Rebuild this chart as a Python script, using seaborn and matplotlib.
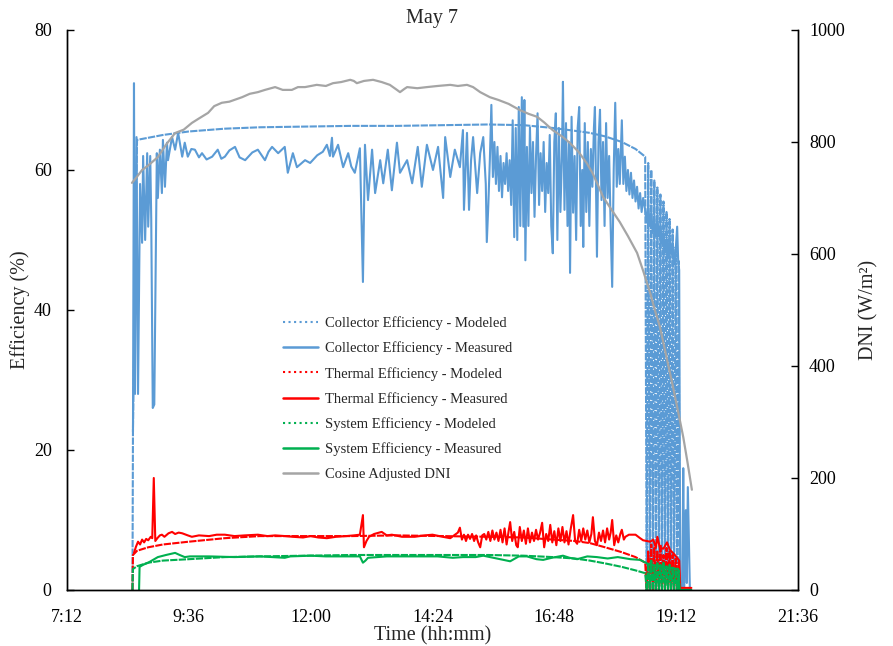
import matplotlib
matplotlib.use("Agg")
import matplotlib.pyplot as plt
from matplotlib.lines import Line2D
from matplotlib.ticker import FuncFormatter
import seaborn as sns
import pandas as pd

# ---------------- data (time in decimal hours) ----------------

# cosine adjusted DNI, W/m2 (right axis)
dni_time = [8.48, 8.58, 8.68, 8.80, 8.99, 9.15, 9.33, 9.50, 9.66, 9.80,
            9.98, 10.10, 10.25, 10.40, 10.65, 10.80, 10.96, 11.10, 11.30, 11.45,
            11.63, 11.75, 11.89, 12.12, 12.30, 12.44, 12.60, 12.78, 12.85, 12.91,
            13.05, 13.23, 13.40, 13.56, 13.70, 13.76, 13.85, 13.90, 14.10, 14.29,
            14.50, 14.75, 14.90, 15.08, 15.20, 15.34, 15.53, 15.70, 15.90, 16.12,
            16.30, 16.46, 16.60, 16.77, 16.95, 17.11, 17.28, 17.44, 17.55, 17.65,
            17.76, 17.92, 18.09, 18.25, 18.43, 18.55, 18.69, 18.78, 18.88, 19.00,
            19.14, 19.24, 19.34, 19.42, 19.51]
dni_wm2 = [727, 738, 750, 758, 773, 795, 816, 822, 834, 842,
           852, 864, 870, 872, 880, 886, 889, 893, 898, 893,
           893, 898, 898, 902, 900, 905, 907, 911, 909, 905,
           909, 911, 907, 902, 893, 889, 895, 898, 896, 898,
           900, 902, 900, 902, 898, 889, 880, 875, 868, 857,
           850, 845, 835, 821, 810, 798, 782, 762, 745, 725,
           702, 680, 657, 632, 602, 570, 530, 500, 470, 420,
           362, 318, 273, 230, 179]

# modeled efficiencies share one time base (on/off cycling at sunset)
model_time = [8.49, 8.50, 8.58, 8.80, 9.09, 9.60, 10.31, 11.00, 11.89, 12.80,
              13.70, 14.60, 15.50, 16.20, 16.77, 17.20, 17.50, 17.80, 18.13, 18.40,
              18.59, 18.62, 18.65, 18.68, 18.71, 18.74, 18.77, 18.80, 18.83, 18.86,
              18.89, 18.92, 18.95, 18.98, 19.01, 19.04, 19.07, 19.10, 19.13, 19.16,
              19.19, 19.22, 19.25, 19.27, 19.50]
coll_model = [0, 23.0, 64.3, 64.6, 65.0, 65.5, 65.9, 66.1, 66.2, 66.3,
              66.3, 66.4, 66.5, 66.4, 66.0, 65.6, 65.3, 64.8, 64.0, 63.0,
              61.9, 0, 61.0, 0, 60.0, 0, 58.5, 0, 57.5, 0,
              56.5, 0, 55.5, 0, 54.0, 0, 53.0, 0, 51.5, 0,
              49.0, 0, 47.0, 0, 0]
therm_model = [0, 5.0, 5.6, 6.1, 6.5, 6.9, 7.4, 7.7, 7.7, 7.7,
               7.8, 7.7, 7.6, 7.5, 7.2, 7.0, 6.7, 6.1, 5.4, 4.7,
               3.9, 0, 5.5, 0, 6.5, 0, 6.0, 0, 5.5, 0,
               6.5, 0, 5.0, 0, 6.0, 0, 5.5, 0, 5.0, 0,
               4.5, 0, 4.0, 0, 0]
sys_model = [0, 3.0, 3.4, 3.9, 4.2, 4.4, 4.7, 4.8, 4.9, 5.0,
             5.0, 5.0, 5.0, 4.9, 4.7, 4.5, 4.2, 3.8, 3.3, 2.8,
             2.4, 0, 3.8, 0, 4.2, 0, 3.5, 0, 4.0, 0,
             3.6, 0, 3.9, 0, 3.4, 0, 3.6, 0, 3.2, 0,
             3.0, 0, 2.8, 0, 0]

# measured collector efficiency, %
coll_time = [8.50, 8.52, 8.54, 8.57, 8.60, 8.64, 8.68, 8.70, 8.74, 8.78,
             8.80, 8.84, 8.86, 8.89, 8.92, 8.97, 8.99, 9.03, 9.07, 9.09,
             9.13, 9.17, 9.19, 9.27, 9.33, 9.39, 9.47, 9.52, 9.58, 9.65,
             9.72, 9.80, 9.86, 9.95, 10.06, 10.17, 10.24, 10.31, 10.40, 10.51,
             10.60, 10.71, 10.85, 10.96, 11.10, 11.17, 11.24, 11.36, 11.49, 11.55,
             11.65, 11.73, 11.89, 11.99, 12.13, 12.24, 12.32, 12.38, 12.42, 12.44,
             12.54, 12.64, 12.74, 12.80, 12.87, 12.97, 13.03, 13.07, 13.13, 13.21,
             13.27, 13.37, 13.43, 13.52, 13.60, 13.70, 13.76, 13.90, 14.00, 14.11,
             14.19, 14.29, 14.41, 14.51, 14.61, 14.65, 14.75, 14.84, 14.94, 15.00,
             15.02, 15.08, 15.12, 15.16, 15.20, 15.28, 15.34, 15.40, 15.45, 15.47,
             15.50, 15.53, 15.56, 15.59, 15.62, 15.65, 15.68, 15.71, 15.74, 15.77,
             15.80, 15.83, 15.86, 15.89, 15.92, 15.95, 15.98, 16.01, 16.04, 16.07,
             16.10, 16.13, 16.16, 16.19, 16.21, 16.23, 16.26, 16.29, 16.32, 16.35,
             16.38, 16.41, 16.44, 16.47, 16.50, 16.53, 16.56, 16.59, 16.62, 16.65,
             16.68, 16.71, 16.74, 16.77, 16.80, 16.83, 16.86, 16.89, 16.92, 16.95,
             16.97, 17.00, 17.03, 17.06, 17.09, 17.11, 17.14, 17.17, 17.20, 17.23,
             17.26, 17.29, 17.32, 17.35, 17.37, 17.40, 17.43, 17.46, 17.49, 17.52,
             17.55, 17.58, 17.60, 17.64, 17.67, 17.70, 17.73, 17.76, 17.79, 17.82,
             17.85, 17.88, 17.91, 17.94, 17.97, 18.00, 18.03, 18.06, 18.09, 18.13,
             18.16, 18.19, 18.22, 18.25, 18.28, 18.31, 18.34, 18.37, 18.40, 18.43,
             18.46, 18.49, 18.52, 18.55, 18.59, 18.62, 18.65, 18.68, 18.71, 18.74,
             18.77, 18.80, 18.83, 18.86, 18.89, 18.92, 18.95, 18.98, 19.01, 19.04,
             19.07, 19.10, 19.13, 19.16, 19.19, 19.22, 19.24, 19.26, 19.28, 19.32,
             19.34, 19.36, 19.39, 19.41, 19.43, 19.47]
coll_meas = [22.6, 72.4, 28.0, 64.7, 28.0, 58.0, 49.6, 62.0, 50.0, 62.4,
             51.9, 62.0, 52.9, 26.0, 26.5, 62.4, 56.0, 62.9, 56.7, 64.3,
             57.6, 63.9, 61.4, 64.7, 62.9, 65.3, 61.9, 63.9, 61.9, 63.0,
             62.9, 61.8, 62.4, 61.5, 61.9, 62.9, 61.6, 61.9, 62.8, 63.3,
             61.8, 61.4, 62.5, 62.9, 61.4, 62.6, 63.3, 62.4, 63.3, 59.6,
             62.4, 60.4, 61.4, 61.0, 62.1, 62.6, 63.6, 62.0, 64.6, 61.9,
             63.6, 60.4, 62.4, 60.5, 59.6, 63.1, 44.0, 63.6, 55.7, 62.9,
             56.7, 61.4, 58.1, 62.9, 57.1, 63.9, 59.6, 61.4, 58.1, 63.3,
             57.6, 63.6, 60.0, 63.3, 56.0, 64.7, 59.0, 62.9, 60.4, 65.7,
             54.3, 65.3, 54.3, 61.4, 64.7, 56.7, 62.4, 64.7, 58.0, 49.7,
             55.0, 61.4, 69.3, 59.0, 64.0, 58.0, 63.3, 57.0, 62.0, 56.1,
             61.0, 58.0, 62.4, 57.0, 61.4, 55.0, 67.1, 50.4, 66.0, 50.0,
             69.0, 52.0, 70.4, 51.9, 70.0, 47.1, 63.3, 52.0, 66.1, 56.7,
             64.0, 53.3, 62.0, 68.1, 55.0, 62.4, 57.0, 64.0, 54.0, 61.0,
             56.7, 65.0, 52.0, 48.1, 64.0, 68.1, 50.0, 66.0, 54.0, 62.0,
             72.6, 54.3, 66.7, 52.0, 64.0, 45.3, 67.6, 53.9, 62.0, 50.0,
             66.0, 69.0, 52.0, 60.0, 49.0, 66.7, 54.0, 64.0, 52.0, 63.0,
             57.6, 66.0, 69.0, 47.6, 64.0, 68.6, 55.7, 64.0, 52.0, 66.7,
             56.0, 62.0, 52.0, 43.3, 60.0, 69.6, 57.6, 63.0, 58.0, 67.1,
             58.0, 61.9, 57.0, 60.0, 56.5, 59.6, 56.0, 58.5, 55.5, 57.6,
             54.5, 56.7, 54.0, 56.0, 54.3, 52.5, 55.0, 52.0, 54.0, 51.0,
             53.0, 50.5, 53.0, 50.5, 52.0, 49.5, 51.0, 48.5, 50.0, 47.5,
             50.5, 48.0, 49.6, 46.5, 48.5, 51.9, 47.0, 45.7, 0.5, 0.5,
             17.4, 0.5, 11.4, 1.0, 14.7, 0.3]

# measured thermal efficiency, %
therm_time = [8.52, 8.56, 8.60, 8.64, 8.68, 8.72, 8.76, 8.80, 8.85, 8.88,
              8.91, 8.94, 8.98, 9.03, 9.07, 9.12, 9.20, 9.27, 9.33, 9.40,
              9.47, 9.58, 9.66, 9.80, 10.00, 10.15, 10.31, 10.50, 10.70, 10.96,
              11.15, 11.30, 11.50, 11.65, 11.85, 12.00, 12.15, 12.32, 12.50, 12.70,
              12.85, 12.97, 13.03, 13.05, 13.10, 13.15, 13.25, 13.40, 13.50, 13.60,
              13.80, 14.05, 14.25, 14.40, 14.60, 14.75, 14.90, 14.94, 14.98, 15.02,
              15.06, 15.10, 15.14, 15.18, 15.22, 15.26, 15.30, 15.34, 15.38, 15.42,
              15.46, 15.50, 15.54, 15.58, 15.62, 15.66, 15.70, 15.74, 15.78, 15.82,
              15.86, 15.90, 15.93, 15.97, 16.01, 16.05, 16.08, 16.12, 16.16, 16.20,
              16.24, 16.28, 16.32, 16.36, 16.40, 16.44, 16.48, 16.52, 16.56, 16.60,
              16.64, 16.68, 16.72, 16.76, 16.80, 16.84, 16.88, 16.92, 16.96, 17.00,
              17.04, 17.08, 17.12, 17.17, 17.21, 17.25, 17.29, 17.33, 17.37, 17.41,
              17.45, 17.49, 17.53, 17.56, 17.60, 17.64, 17.68, 17.72, 17.76, 17.80,
              17.84, 17.88, 17.91, 17.94, 17.98, 18.02, 18.06, 18.10, 18.13, 18.17,
              18.20, 18.27, 18.40, 18.49, 18.55, 18.62, 18.69, 18.75, 18.80, 18.83,
              18.88, 18.95, 19.02, 19.08, 19.15, 19.22, 19.26, 19.28, 19.50]
therm_meas = [5.3, 6.2, 6.9, 6.5, 7.2, 6.8, 7.3, 7.1, 7.6, 7.4,
              16.0, 7.0, 7.4, 7.8, 7.9, 7.6, 8.1, 8.3, 8.0, 8.2,
              8.1, 7.8, 7.6, 7.8, 7.7, 7.9, 7.9, 7.7, 7.8, 7.9,
              7.7, 7.8, 7.7, 7.6, 7.5, 7.7, 7.5, 7.4, 7.6, 7.7,
              7.8, 7.9, 10.7, 6.1, 7.0, 7.6, 8.0, 8.3, 7.8, 7.9,
              7.6, 7.6, 7.8, 7.9, 7.6, 7.4, 8.2, 8.9, 7.2, 7.9,
              7.0, 7.9, 7.3, 8.0, 7.0, 7.8, 6.8, 6.1, 7.8, 8.0,
              7.2, 8.3, 7.0, 8.5, 7.2, 8.2, 7.0, 8.6, 6.8, 8.8,
              6.5, 8.4, 9.7, 7.0, 8.3, 6.4, 6.1, 9.0, 7.0, 8.5,
              6.6, 8.8, 6.8, 8.2, 7.0, 8.6, 7.2, 8.2, 9.6, 6.1,
              8.0, 7.0, 9.3, 6.8, 8.4, 6.4, 8.8, 7.0, 9.0, 6.8,
              8.4, 6.5, 8.6, 10.7, 7.0, 6.6, 8.6, 7.0, 8.8, 7.2,
              8.5, 6.8, 8.0, 10.4, 7.0, 6.4, 8.2, 7.0, 8.5, 6.8,
              8.8, 7.2, 8.2, 10.0, 6.4, 7.8, 6.8, 8.0, 8.6, 7.2,
              7.6, 7.9, 7.9, 7.4, 7.1, 7.0, 6.9, 7.2, 6.0, 7.6,
              6.0, 5.9, 6.8, 5.7, 5.2, 4.6, 4.2, 0.3, 0.3]

# measured system efficiency, %
sys_time = [8.62, 8.63, 8.70, 8.80, 8.99, 9.15, 9.33, 9.42, 9.52, 9.62,
            9.72, 10.00, 10.50, 11.00, 11.49, 11.60, 12.00, 12.30, 12.64, 12.97,
            13.03, 13.08, 13.13, 13.50, 14.00, 14.50, 14.80, 15.00, 15.25, 15.40,
            15.60, 15.80, 15.93, 16.10, 16.26, 16.45, 16.58, 16.75, 16.97, 17.10,
            17.25, 17.45, 17.64, 17.85, 18.05, 18.30, 18.49, 18.60, 18.69, 18.80,
            18.94, 19.05, 19.14, 19.24, 19.26, 19.50]
sys_meas = [0, 3.3, 3.6, 3.9, 4.7, 5.0, 5.3, 5.0, 4.7, 4.8,
            4.8, 4.8, 4.7, 4.8, 4.6, 4.8, 4.9, 4.8, 4.8, 4.8,
            3.9, 4.2, 4.6, 4.8, 4.8, 4.8, 4.6, 4.7, 4.7, 4.9,
            4.6, 4.3, 4.1, 4.8, 4.8, 4.4, 4.3, 4.6, 4.9, 4.6,
            4.4, 4.8, 4.7, 4.5, 4.7, 4.4, 4.3, 3.9, 3.6, 3.5,
            3.3, 3.2, 3.1, 3.0, 0, 0]

labels = ["Collector Efficiency - Modeled", "Collector Efficiency - Measured",
          "Thermal Efficiency - Modeled", "Thermal Efficiency - Measured",
          "System Efficiency - Modeled", "System Efficiency - Measured",
          "Cosine Adjusted DNI"]

BLUE = "#5B9BD5"
RED = "#FF0000"
GREEN = "#00B050"
GRAY = "#A5A5A5"
MODEL_LS = (0, (3.5, 0.6))

sns.set_theme(style="white")
plt.rcParams["font.family"] = ["Liberation Serif", "DejaVu Serif"]

fig = plt.figure(figsize=(8.93, 6.46), dpi=100)
ax = fig.add_axes([0.075, 0.0867, 0.8186, 0.8669])
ax2 = ax.twinx()

series = [
    (model_time, coll_model, BLUE, MODEL_LS),
    (coll_time, coll_meas, BLUE, "-"),
    (model_time, therm_model, RED, MODEL_LS),
    (therm_time, therm_meas, RED, "-"),
    (model_time, sys_model, GREEN, MODEL_LS),
    (sys_time, sys_meas, GREEN, "-"),
]
for t, v, c, ls in series:
    df = pd.DataFrame({"time": t, "eff": v})
    sns.lineplot(data=df, x="time", y="eff", ax=ax, color=c, linestyle=ls,
                 linewidth=1.5, estimator=None, sort=False, legend=False)

dni_df = pd.DataFrame({"time": dni_time, "dni": dni_wm2})
sns.lineplot(data=dni_df, x="time", y="dni", ax=ax2, color=GRAY, linewidth=1.6,
             estimator=None, sort=False, legend=False)

# axes
ax.set_xlim(7.2, 21.6)
ax.set_xticks([7.2, 9.6, 12.0, 14.4, 16.8, 19.2, 21.6])
ax.xaxis.set_major_formatter(FuncFormatter(
    lambda v, p: f"{int(v + 1e-6)}:{int(round((v - int(v + 1e-6)) * 60)):02d}"))
ax.set_ylim(0, 80)
ax.set_yticks([0, 20, 40, 60, 80])
ax2.set_ylim(0, 1000)
ax2.set_yticks([0, 200, 400, 600, 800, 1000])

for a in (ax, ax2):
    a.spines["top"].set_visible(False)
    for s in ("left", "right", "bottom"):
        a.spines[s].set_color("black")
        a.spines[s].set_linewidth(1.0)
    a.tick_params(direction="in", length=5, width=1, colors="black", labelsize=13)
ax.tick_params(axis="x", pad=14)
ax.tick_params(axis="y", pad=11)
ax2.tick_params(axis="y", pad=8)

ax.set_xlabel("Time (hh:mm)", fontsize=14.5, labelpad=0)
ax.set_ylabel("Efficiency (%)", fontsize=14.5, labelpad=3)
ax2.set_ylabel("DNI (W/m²)", fontsize=14.5, labelpad=10)
ax.set_title("May 7", fontsize=14.5, pad=5)

handles = [
    Line2D([], [], color=BLUE, ls=":", lw=1.5),
    Line2D([], [], color=BLUE, ls="-", lw=1.8),
    Line2D([], [], color=RED, ls=":", lw=1.5),
    Line2D([], [], color=RED, ls="-", lw=1.8),
    Line2D([], [], color=GREEN, ls=":", lw=1.5),
    Line2D([], [], color=GREEN, ls="-", lw=1.8),
    Line2D([], [], color=GRAY, ls="-", lw=1.8),
]
ax2.legend(handles, labels, loc="upper left", bbox_to_anchor=(0.2955, 0.489),
           frameon=False, fontsize=10.5, handlelength=2.4, handletextpad=0.5,
           labelspacing=0.79, borderpad=0, borderaxespad=0)

fig.savefig("out.png", dpi=100)
